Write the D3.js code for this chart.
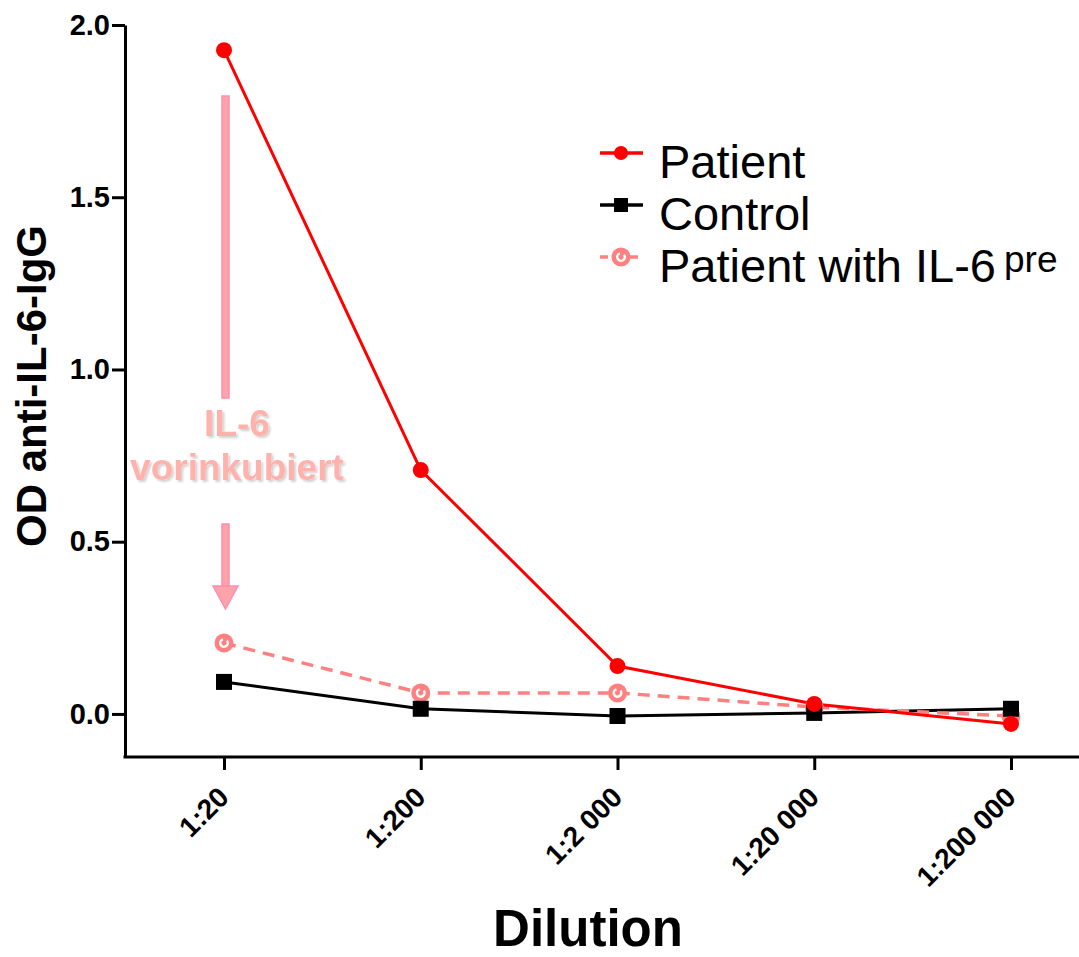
<!doctype html>
<html lang="en">

<head>
    <meta charset="utf-8">
    <title>OD anti-IL-6-IgG by dilution</title>
    <style type="text/css">
        body {
            margin: 0px;
            background: #ffffff;
        }

        svg text {
            font-family: "Liberation Sans", Arial, sans-serif;
        }

        .tick text {
            font-weight: bold;
        }
    </style>
</head>

<body>
    <script src="https://cdnjs.cloudflare.com/ajax/libs/d3/7.8.5/d3.min.js"></script>
    <div id="chart"></div>
    <script>
        // values
        var dilutions = ["1:20", "1:200", "1:2 000", "1:20 000", "1:200 000"];
        var patient = [1.927, 0.708, 0.139, 0.029, -0.029];
        var control = [0.093, 0.015, -0.006, 0.003, 0.015];
        var patientPre = [0.206, 0.061, 0.061, 0.02, -0.006];
        var yTicks = [0, 0.5, 1.0, 1.5, 2.0];
        var legendLabels = ["Patient", "Control", "Patient with IL-6"];

        var width = 1079,
            height = 957;

        var svg = d3.select("#chart")
            .append("svg")
            .attr("width", width)
            .attr("height", height);

        var x = d3.scalePoint()
            .domain(dilutions)
            .range([224, 1011]);

        var y = d3.scaleLinear()
            .domain([-0.125, 2.0])
            .range([757, 25]);

        // y axis
        var yAxis = svg.append("g")
            .attr("transform", "translate(125,0)")
            .call(d3.axisLeft(y)
                .tickValues(yTicks)
                .tickFormat(d3.format(".1f"))
                .tickSize(13)
                .tickSizeOuter(0)
                .tickPadding(2));
        yAxis.selectAll("path, line").attr("stroke", "#000").attr("stroke-width", 3);
        yAxis.selectAll("text").style("font-size", "29px").attr("fill", "#000");

        // x axis: ticks from the axis, the long base line drawn by hand
        var xAxis = svg.append("g")
            .attr("transform", "translate(0,757)")
            .call(d3.axisBottom(x).tickSize(13).tickSizeOuter(0));
        xAxis.select(".domain").remove();
        xAxis.selectAll("line").attr("stroke", "#000").attr("stroke-width", 3);
        xAxis.selectAll("text")
            .style("font-size", "28px")
            .attr("fill", "#000")
            .attr("text-anchor", "end")
            .attr("y", 0)
            .attr("dy", 0)
            .attr("transform", "translate(6,42) rotate(-45)");

        svg.append("line")
            .attr("x1", 123.5).attr("x2", width)
            .attr("y1", 757).attr("y2", 757)
            .attr("stroke", "#000")
            .attr("stroke-width", 3);

        // axis titles
        svg.append("text")
            .attr("transform", "translate(46,386) rotate(-90)")
            .attr("text-anchor", "middle")
            .style("font-size", "42px")
            .style("font-weight", "bold")
            .text("OD anti-IL-6-IgG");

        svg.append("text")
            .attr("x", 588)
            .attr("y", 946)
            .attr("text-anchor", "middle")
            .style("font-size", "51px")
            .style("font-weight", "bold")
            .text("Dilution");

        // annotation arrow
        var pinkFill = "#ffa3aa",
            pinkStroke = "#ff8db0";
        var ax = x(dilutions[0]) + 1.5;
        svg.append("rect")
            .attr("x", ax - 3.5).attr("y", 96)
            .attr("width", 7).attr("height", 302)
            .attr("fill", pinkFill).attr("stroke", pinkStroke).attr("stroke-width", 1.5);
        svg.append("rect")
            .attr("x", ax - 3.5).attr("y", 524)
            .attr("width", 7).attr("height", 62)
            .attr("fill", pinkFill).attr("stroke", pinkStroke).attr("stroke-width", 1.5);
        svg.append("path")
            .attr("d", "M" + (ax - 12.5) + ",586 L" + (ax + 12.5) + ",586 L" + ax + ",609 Z")
            .attr("fill", pinkFill).attr("stroke", pinkStroke).attr("stroke-width", 1.5);

        var defs = svg.append("defs");
        var shadow = defs.append("filter").attr("id", "shadow")
            .attr("x", "-10%").attr("y", "-20%").attr("width", "130%").attr("height", "150%");
        shadow.append("feDropShadow")
            .attr("dx", 2).attr("dy", 2).attr("stdDeviation", 1.2)
            .attr("flood-color", "#000").attr("flood-opacity", 0.18);

        var note = svg.append("text")
            .attr("text-anchor", "middle")
            .attr("fill", "#ffb2ac")
            .attr("filter", "url(#shadow)")
            .style("font-size", "37px")
            .style("font-weight", "bold");
        note.append("tspan").attr("x", 237).attr("y", 436).text("IL-6");
        note.append("tspan").attr("x", 237).attr("y", 480).text("vorinkubiert");

        // lines
        var line = d3.line()
            .x(function (d, i) { return x(dilutions[i]); })
            .y(function (d) { return y(d); });

        svg.append("path").datum(control)
            .attr("d", line).attr("fill", "none")
            .attr("stroke", "#000").attr("stroke-width", 3);

        svg.append("path").datum(patientPre)
            .attr("d", line).attr("fill", "none")
            .attr("stroke", "#ff8080").attr("stroke-width", 3.5)
            .attr("stroke-dasharray", "12,8");

        svg.append("path").datum(patient)
            .attr("d", line).attr("fill", "none")
            .attr("stroke", "#ff0000").attr("stroke-width", 3);

        // markers
        function preMarker(g) {
            g.append("circle").attr("r", 9.5).attr("fill", "#ff8080");
            g.append("path")
                .attr("d", d3.arc().innerRadius(2.5).outerRadius(5).startAngle(0.9).endAngle(2 * Math.PI - 0.3))
                .attr("fill", "#fff");
        }

        svg.selectAll(".pre")
            .data(patientPre)
            .enter()
            .append("g")
            .attr("class", "pre")
            .attr("transform", function (d, i) { return "translate(" + x(dilutions[i]) + "," + y(d) + ")"; })
            .each(function () { preMarker(d3.select(this)); });

        svg.selectAll(".ctrl")
            .data(control)
            .enter()
            .append("rect")
            .attr("class", "ctrl")
            .attr("x", function (d, i) { return x(dilutions[i]) - 8; })
            .attr("y", function (d) { return y(d) - 8; })
            .attr("width", 16).attr("height", 16)
            .attr("fill", "#000");

        svg.selectAll(".pat")
            .data(patient)
            .enter()
            .append("circle")
            .attr("class", "pat")
            .attr("cx", function (d, i) { return x(dilutions[i]); })
            .attr("cy", function (d) { return y(d); })
            .attr("r", 8)
            .attr("fill", "#ff0000");

        // legend
        var legend = svg.append("g");
        var legendY = [153, 205, 257];

        legendLabels.forEach(function (label, i) {
            var row = legend.append("g").attr("transform", "translate(0," + legendY[i] + ")");
            var seg = row.append("line")
                .attr("x1", 600).attr("x2", 643)
                .attr("y1", 0).attr("y2", 0)
                .attr("stroke-width", 3.5);
            if (i === 0) {
                seg.attr("stroke", "#ff0000");
                row.append("circle").attr("cx", 621).attr("cy", 0).attr("r", 7).attr("fill", "#ff0000");
            } else if (i === 1) {
                seg.attr("stroke", "#000");
                row.append("rect").attr("x", 614).attr("y", -7).attr("width", 14).attr("height", 14).attr("fill", "#000");
            } else {
                seg.attr("stroke", "#ff8080").attr("stroke-dasharray", "8,7");
                var g = row.append("g").attr("transform", "translate(621,0)");
                preMarker(g);
            }
            row.append("text")
                .attr("x", 659)
                .attr("y", 25)
                .style("font-size", "47px")
                .text(label);
        });

        legend.append("text")
            .attr("x", 1004)
            .attr("y", 272)
            .style("font-size", "37px")
            .text("pre");
    </script>
</body>

</html>
